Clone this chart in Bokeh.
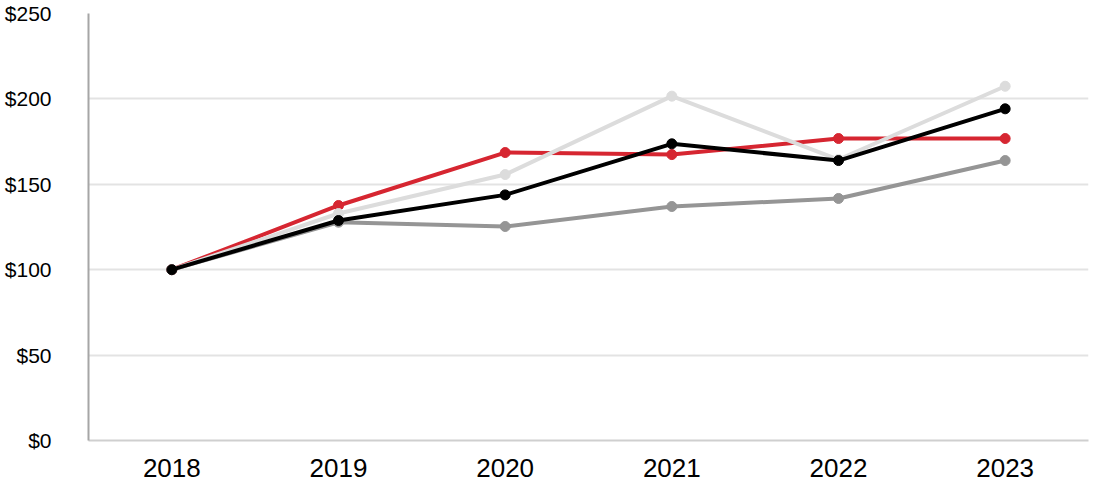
from bokeh.plotting import figure
from bokeh.models import Range1d, NumeralTickFormatter, FixedTicker
from bokeh.embed import file_html
from bokeh.resources import INLINE

years = ["2018", "2019", "2020", "2021", "2022", "2023"]
red_vals = [100, 137.6, 168.6, 167.4, 176.8, 176.8]
lightgray_vals = [100, 132.9, 155.7, 201.6, 164.5, 207.4]
black_vals = [100, 128.8, 143.8, 173.7, 163.9, 194.2]
darkgray_vals = [100, 127.8, 125.3, 137.0, 141.7, 163.9]
y_ticks = [0, 50, 100, 150, 200, 250]

series = [
    (darkgray_vals, "#959595"),
    (red_vals, "#d62631"),
    (lightgray_vals, "#dcdcdc"),
    (black_vals, "#000000"),
]

p = figure(width=1092, height=484, x_range=years, y_range=Range1d(0, 250),
           output_backend="svg", toolbar_location=None,
           min_border_left=88, min_border_right=4, min_border_top=13, min_border_bottom=44)
p.outline_line_color = None
p.background_fill_color = "white"
p.border_fill_color = "white"

for vals, col in series:
    p.line(years, vals, line_color=col, line_width=4)
    p.scatter(years, vals, size=10, fill_color=col, line_color=col)

p.yaxis.ticker = FixedTicker(ticks=y_ticks)
p.yaxis.formatter = NumeralTickFormatter(format="$0")
p.yaxis.major_label_text_font = "Liberation Sans"
p.yaxis.major_label_text_font_size = "21px"
p.yaxis.major_label_text_color = "#000000"
p.yaxis.major_label_standoff = 31
p.yaxis.axis_line_color = "#a6a6a6"
p.yaxis.axis_line_width = 2
p.yaxis.major_tick_line_color = None
p.yaxis.minor_tick_line_color = None

p.xaxis.major_label_text_font = "Liberation Sans"
p.xaxis.major_label_text_font_size = "26px"
p.xaxis.major_label_text_color = "#000000"
p.xaxis.major_label_standoff = 12
p.xaxis.axis_line_color = "#cfcfcf"
p.xaxis.axis_line_width = 2
p.xaxis.major_tick_line_color = None
p.xaxis.minor_tick_line_color = None

p.xgrid.grid_line_color = None
p.ygrid.grid_line_color = "#e3e3e3"
p.ygrid.grid_line_width = 2

open("out.html", "w").write(file_html(p, INLINE))
